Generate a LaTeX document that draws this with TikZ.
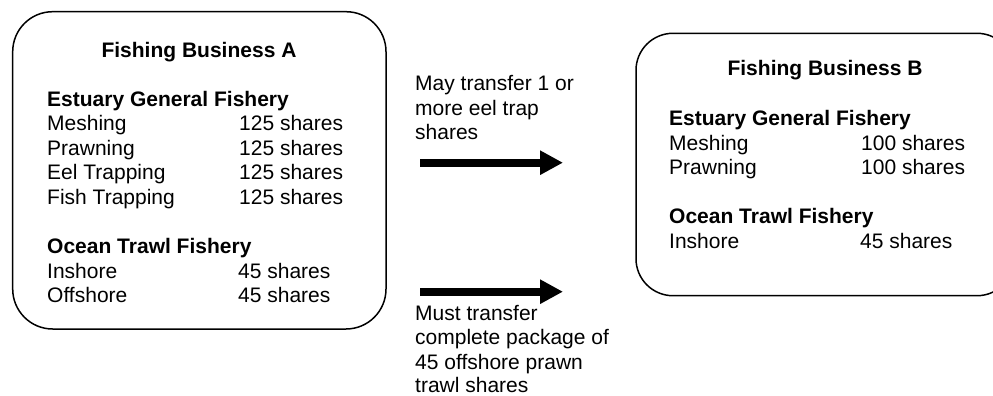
\documentclass[tikz,border=0pt]{standalone}
\usepackage{fontspec}
\setmainfont{Liberation Sans}
\usetikzlibrary{arrows.meta}
\begin{document}
\begin{tikzpicture}[x=1pt,y=-1pt,
  txt/.style={anchor=base west,inner sep=0pt,font=\fontsize{21}{24.5}\selectfont},
  hdr/.style={anchor=base west,inner sep=0pt,font=\fontsize{21}{24.5}\selectfont\bfseries},
  ttl/.style={anchor=base,inner sep=0pt,font=\fontsize{21}{24.5}\selectfont\bfseries},
  bizbox/.style={draw,line width=1.5pt,rounded corners=40pt},
  bigarrow/.style={line width=8pt,-{Triangle[length=23pt,width=23pt]}}
]
\useasboundingbox (0,0) rectangle (993,396);
\clip (0,0) rectangle (993,396);

% Box A
\draw[bizbox] (12.7,11.7) rectangle (386,329);
\node[ttl] (aTitle) at (199,57.5) {Fishing Business A};
\node[hdr] (aEst) at (47,106) {Estuary General Fishery};
\node[txt] (aMesh) at (47,130.5) {Meshing};
\node[txt] (aMeshN) at (239,130.5) {125 shares};
\node[txt] (aPrawn) at (47,155) {Prawning};
\node[txt] (aPrawnN) at (239,155) {125 shares};
\node[txt] (aEel) at (47,179.5) {Eel Trapping};
\node[txt] (aEelN) at (239,179.5) {125 shares};
\node[txt] (aFish) at (47,204) {Fish Trapping};
\node[txt] (aFishN) at (239,204) {125 shares};
\node[hdr] (aOcean) at (47,253.5) {Ocean Trawl Fishery};
\node[txt] (aIn) at (47,278) {Inshore};
\node[txt] (aInN) at (238,278) {45 shares};
\node[txt] (aOff) at (47,302.5) {Offshore};
\node[txt] (aOffN) at (238,302.5) {45 shares};

% Box B
\draw[bizbox,rounded corners=37pt] (636,33.3) rectangle (1014,295.7);
\node[ttl] (bTitle) at (825,75.5) {Fishing Business B};
\node[hdr] (bEst) at (669,125.5) {Estuary General Fishery};
\node[txt] (bMesh) at (669,150) {Meshing};
\node[txt] (bMeshN) at (861,150) {100 shares};
\node[txt] (bPrawn) at (669,174.5) {Prawning};
\node[txt] (bPrawnN) at (861,174.5) {100 shares};
\node[hdr] (bOcean) at (669,223.5) {Ocean Trawl Fishery};
\node[txt] (bIn) at (669,248) {Inshore};
\node[txt] (bInN) at (860,248) {45 shares};

% Middle labels
\node[txt] (m1) at (415,90.5) {May transfer 1 or};
\node[txt] (m2) at (415,115) {more eel trap};
\node[txt] (m3) at (415,139.5) {shares};
\node[txt] (n1) at (415,320) {Must transfer};
\node[txt] (n2) at (415,344.5) {complete package of};
\node[txt] (n3) at (415,369) {45 offshore prawn};
\node[txt,text depth=0pt] (n4) at (415,392.5) {trawl shares};

% Arrows
\coordinate (arr1s) at (420,162.7);
\coordinate (arr1e) at (563,162.7);
\coordinate (arr2s) at (420,291.7);
\coordinate (arr2e) at (563,291.7);
\draw[bigarrow] (arr1s) -- (arr1e);
\draw[bigarrow] (arr2s) -- (arr2e);
\end{tikzpicture}
\end{document}
